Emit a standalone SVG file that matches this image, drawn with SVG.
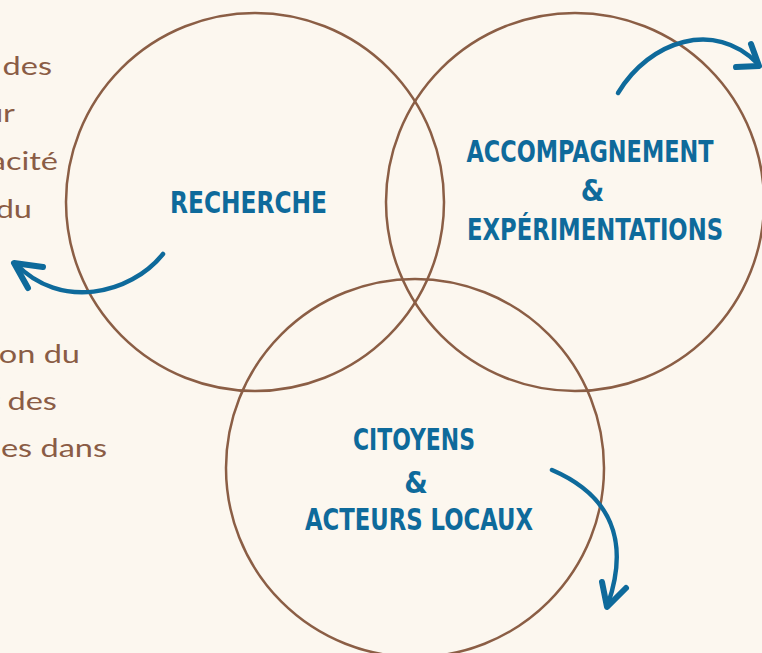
<svg xmlns="http://www.w3.org/2000/svg" width="762" height="653" viewBox="0 0 762 653">
<style>
.bg{fill:#FCF7EF}
.ring{fill:none;stroke:#8B5E45;stroke-width:2.5}
.lbl{font-family:"DejaVu Sans",sans-serif;font-weight:bold;font-stretch:condensed;font-size:30px;fill:#0E6A9B;text-anchor:middle}
.body{font-family:Lato,"Noto Sans",sans-serif;font-weight:400;font-size:25px;fill:#8A5C45;text-anchor:end}
.arc{fill:none;stroke:#0E6A9B;stroke-width:4.5;stroke-linecap:round}
.head{fill:none;stroke:#0E6A9B;stroke-width:6;stroke-linecap:round;stroke-linejoin:round}
</style>
<rect class="bg" x="0" y="0" width="762" height="653"/>
<g id="left-text" transform="scale(1.3,1)">
<text class="body" x="40" y="75">des</text>
<text class="body" x="11.5" y="122">ur</text>
<text class="body" x="44.6" y="170">acité</text>
<text class="body" x="24.6" y="218">du</text>
<text class="body" x="61.5" y="363">ion du</text>
<text class="body" x="43.8" y="410">r des</text>
<text class="body" x="82.3" y="457">ses dans</text>
</g>
<g id="node-recherche">
<circle class="ring" cx="255" cy="202" r="189"/>
<text class="lbl" x="248.5" y="213" textLength="157" lengthAdjust="spacingAndGlyphs">RECHERCHE</text>
</g>
<g id="node-accompagnement">
<circle class="ring" cx="575" cy="202" r="189"/>
<text class="lbl" x="590" y="162" textLength="247" lengthAdjust="spacingAndGlyphs">ACCOMPAGNEMENT</text>
<text class="lbl" x="592.5" y="201">&amp;</text>
<text class="lbl" x="595" y="240" textLength="256" lengthAdjust="spacingAndGlyphs">EXPÉRIMENTATIONS</text>
</g>
<g id="node-citoyens">
<circle class="ring" cx="415" cy="468" r="189"/>
<text class="lbl" x="414" y="450" textLength="122" lengthAdjust="spacingAndGlyphs">CITOYENS</text>
<text class="lbl" x="416" y="493">&amp;</text>
<text class="lbl" x="419" y="530" textLength="228" lengthAdjust="spacingAndGlyphs">ACTEURS LOCAUX</text>
</g>
<g id="connectors">
<path class="arc" d="M618,93 C650,40 715,20 757,63"/>
<path class="head" d="M751,44 L759,66 L736,67"/>
<path class="arc" d="M163,254 C130,295 60,310 16,264"/>
<path class="head" d="M28,288 L14,263 L43,267"/>
<path class="arc" d="M552,470 C610,495 630,540 608,604"/>
<path class="head" d="M602,582 L607,607 L626,588"/>
</g>
</svg>
